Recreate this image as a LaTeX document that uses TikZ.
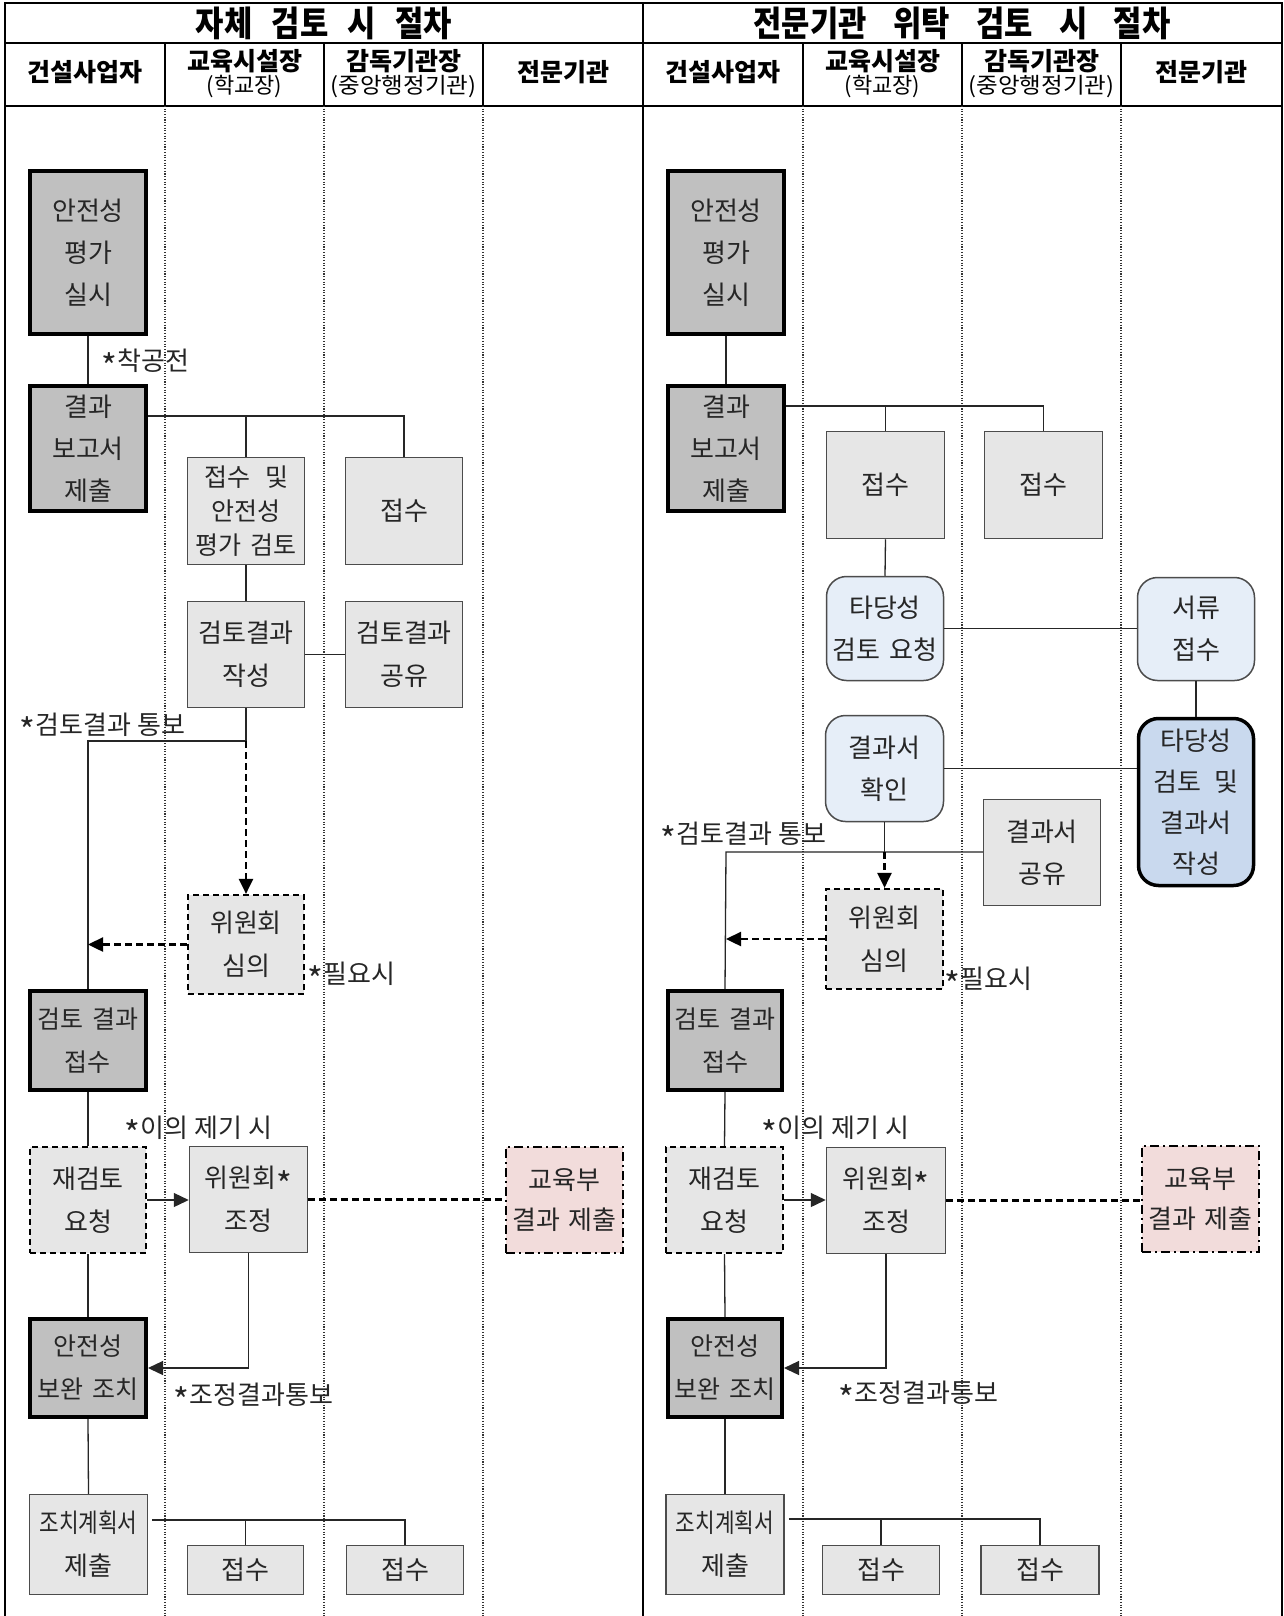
\documentclass[tikz,border=0pt]{standalone}
\usepackage{fontspec}
\setmainfont{Noto Sans CJK KR}[WordSpace=1.5]
\newfontfamily\lblf{Noto Sans CJK KR}[WordSpace=2.4]
\newfontfamily\titlef{Noto Sans CJK KR}
\usetikzlibrary{arrows.meta}
\definecolor{dkgray}{HTML}{C0C0C0}
\definecolor{ltgray}{HTML}{E6E6E6}
\definecolor{pinkc}{HTML}{F2DCDB}
\definecolor{paleblue}{HTML}{E6EEF8}
\definecolor{midblue}{HTML}{C9D9EE}
\newcommand{\astr}{\raisebox{-0.36em}{\scalebox{1.3}{*}}\hspace{1pt}}
\begin{document}
\begin{tikzpicture}[x=1pt,y=-1pt,
 base/.style={inner sep=1pt, align=center, font=\fontsize{26}{42}\selectfont, text=black!85},
 dk/.style={base, draw=black, line width=4pt, fill=dkgray},
 lt/.style={base, draw=black!70, line width=1.5pt, fill=ltgray},
 dsh/.style={base, draw=black, line width=2.2pt, dash pattern=on 6pt off 4pt, fill=ltgray},
 pinkbox/.style={base, draw=black, line width=2.2pt, dash pattern=on 9pt off 4pt on 2pt off 4pt, fill=pinkc},
 rb/.style={base, draw=black!70, line width=1.5pt, rounded corners=20pt, fill=paleblue},
 rbk/.style={base, draw=black, line width=3.5pt, rounded corners=20pt, fill=midblue},
 conn/.style={draw=black!85, line width=1.3pt},
 arr/.style={conn, -{Triangle[length=15pt,width=14pt]}},
 darr/.style={arr, draw=black, line width=2.4pt, dash pattern=on 7pt off 4pt},
 dline/.style={draw=black, line width=2.4pt, dash pattern=on 7pt off 4pt},
 lbl/.style={inner sep=0pt, anchor=west, font=\lblf\fontsize{26}{30}\selectfont, text=black!85},
 hd/.style={inner sep=0pt, font=\bfseries\fontsize{25}{28}\selectfont},
 hdsub/.style={inner sep=0pt, font=\fontsize{22}{24}\selectfont},
 ttl/.style={inner sep=0pt, font=\titlef\bfseries\fontsize{35}{38}\selectfont},
 frame/.style={draw=black, line width=1.5pt},
 dotl/.style={draw=black!80, line width=1.1pt, dash pattern=on 1.1pt off 1.6pt},
]
\fill[white] (0,0) rectangle (1283,1616);
\useasboundingbox (0,0) rectangle (1283,1616);

% table frame
\draw[frame] (5,1616) -- (5,3) -- (1282,3) -- (1282,1616);
\draw[frame] (643,3) -- (643,1616);
\draw[frame] (5,43) -- (1282,43);
\draw[frame] (5,106) -- (1282,106);
\foreach \xx in {165,324,483,803,962,1121}{
  \draw[frame, line width=1.2pt] (\xx,43) -- (\xx,106);
  \draw[dotl] (\xx,106) -- (\xx,1616);
}

% titles and headers
\node[ttl] (T1) at (324,23) {\scalebox{0.88}[1]{자체\hspace{22pt}검토\hspace{22pt}시\hspace{22pt}절차}};
\node[ttl] (T2) at (962,23) {\scalebox{0.88}[1]{전문기관\hspace{30pt}위탁\hspace{30pt}검토\hspace{30pt}시\hspace{30pt}절차}};
\node[hd] (H1) at (85,72) {건설사업자};
\node[hd] (H2) at (244.5,61) {교육시설장};
\node[hdsub] (H2s) at (244.5,87) {(학교장)};
\node[hd] (H3) at (403.5,61) {감독기관장};
\node[hdsub] (H3s) at (403.5,87) {\scalebox{1.07}[1]{(중앙행정기관)}};
\node[hd] (H4) at (563,72) {전문기관};
\node[hd] (H5) at (723,72) {건설사업자};
\node[hd] (H6) at (882.5,61) {교육시설장};
\node[hdsub] (H6s) at (882.5,87) {(학교장)};
\node[hd] (H7) at (1041.5,61) {감독기관장};
\node[hdsub] (H7s) at (1041.5,87) {\scalebox{1.07}[1]{(중앙행정기관)}};
\node[hd] (H8) at (1201.5,72) {전문기관};

% ===== left panel =====
\node[dk, minimum width=116pt, minimum height=163pt] (L1) at (88,252.5) {안전성\\평가\\실시};
\node[dk, minimum width=116pt, minimum height=125pt] (L2) at (88,448.5) {결과\\보고서\\제출};
\node[lt, minimum width=117pt, minimum height=107pt, font=\fontsize{25}{34}\selectfont] (LB1) at (246,511) {접수\hspace{0.6em}및\\안전성\\평가 검토};
\node[lt, minimum width=117pt, minimum height=107pt] (LC1) at (404,511) {접수};
\node[lt, minimum width=117pt, minimum height=106pt, font=\fontsize{26}{43}\selectfont] (LB2) at (246,654.5) {검토결과\\작성};
\node[lt, minimum width=117pt, minimum height=106pt, font=\fontsize{26}{43}\selectfont] (LC2) at (404,654.5) {검토결과\\공유};
\node[dsh, minimum width=116pt, minimum height=99pt, font=\fontsize{26}{43}\selectfont] (LB3) at (246,944.5) {위원회\\심의};
\node[dk, minimum width=116pt, minimum height=99pt, font=\fontsize{25}{43}\selectfont] (L3) at (88,1040.5) {검토 결과\\접수};
\node[dsh, minimum width=116pt, minimum height=106pt, font=\fontsize{26}{43}\selectfont] (L4) at (88,1200) {재검토\\요청};
\node[lt, minimum width=118pt, minimum height=106pt, font=\fontsize{26}{43}\selectfont] (LB4) at (248.5,1199.5) {위원회\astr\\조정};
\node[pinkbox, minimum width=117pt, minimum height=106pt, font=\fontsize{26}{40}\selectfont] (LD4) at (564.5,1200) {교육부\\결과 제출};
\node[dk, minimum width=116pt, minimum height=98pt, font=\fontsize{25}{43}\selectfont] (L5) at (88,1368) {안전성\\보완 조치};
\node[lt, minimum width=118pt, minimum height=100pt, font=\fontsize{26}{43}\selectfont] (L6) at (88.5,1544.5) {\scalebox{0.82}[1]{조치계획서}\\제출};
\node[lt, minimum width=116pt, minimum height=49pt] (LB6) at (245.5,1570) {접수};
\node[lt, minimum width=117pt, minimum height=49pt] (LC6) at (405,1570) {접수};

\coordinate (lj) at (404,416);
\coordinate (lt) at (246,741);
\coordinate (lc) at (88,741);
\coordinate (lk) at (405,1520);

\draw[conn] (L1.south) -- (L2.north);
\draw[conn] (L2.east |- lj) -- (lj) -- (LC1.north);
\draw[conn] (LB1.north |- lj) -- (LB1.north);
\draw[conn] (LB1.south) -- (LB2.north);
\draw[conn] (LB2.east) -- (LC2.west);
\draw[conn] (LB2.south) -- (lt) -- (lc) -- (L3.north);
\draw[darr] (lt) -- (LB3.north);
\draw[darr] (LB3.west) -- (lc |- LB3.west);
\draw[conn] (L3.south) -- (L4.north);
\draw[conn] (L4.south) -- (L5.north);
\draw[conn] (L5.south) -- (L6.north);
\draw[arr] (L4.east) -- (LB4.west |- L4.east);
\draw[dline] (LB4.east) -- (LD4.west |- LB4.east);
\draw[arr] (LB4.south) -- (LB4.south |- L5.east) -- (L5.east);
\draw[conn] ([xshift=4pt]L6.east |- lk) -- (lk) -- (LC6.north);
\draw[conn] (LB6.north |- lk) -- (LB6.north);

\node[lbl] (la1) at (101,364) {\astr 착공전};
\node[lbl] (la2) at (19,728) {\astr 검토결과 통보};
\node[lbl] (la3) at (307,977) {\astr 필요시};
\node[lbl] (la4) at (124,1131) {\astr 이의 제기 시};
\node[lbl] (la5) at (173,1398) {\astr 조정결과통보};

% ===== right panel =====
\node[dk, minimum width=116pt, minimum height=163pt] (R1) at (726,252.5) {안전성\\평가\\실시};
\node[dk, minimum width=116pt, minimum height=125pt] (R2) at (726,448.5) {결과\\보고서\\제출};
\node[lt, minimum width=118pt, minimum height=107pt] (RB1) at (885.5,485) {접수};
\node[lt, minimum width=118pt, minimum height=107pt] (RC1) at (1043.5,485) {접수};
\node[rb, minimum width=117pt, minimum height=104pt, font=\fontsize{26}{42}\selectfont] (RB2) at (885,628.5) {타당성\\검토 요청};
\node[rb, minimum width=117pt, minimum height=103pt, font=\fontsize{26}{42}\selectfont] (RD2) at (1196,629) {서류\\접수};
\node[rbk, minimum width=115pt, minimum height=167pt, font=\fontsize{26}{41}\selectfont] (RD3) at (1196,802) {타당성\\검토\hspace{0.5em}및\\결과서\\작성};
\node[rb, minimum width=118pt, minimum height=106pt, font=\fontsize{26}{42}\selectfont] (RB3) at (884.5,768.5) {결과서\\확인};
\node[lt, minimum width=117pt, minimum height=106pt, font=\fontsize{26}{42}\selectfont] (RC3) at (1042,852.5) {결과서\\공유};
\node[dsh, minimum width=117pt, minimum height=100pt, font=\fontsize{26}{43}\selectfont] (RB4) at (884.5,939) {위원회\\심의};
\node[dk, minimum width=114pt, minimum height=99pt, font=\fontsize{25}{43}\selectfont] (R3) at (725,1040.5) {검토 결과\\접수};
\node[dsh, minimum width=117pt, minimum height=106pt, font=\fontsize{26}{43}\selectfont] (R4) at (724.5,1200) {재검토\\요청};
\node[lt, minimum width=119pt, minimum height=106pt, font=\fontsize{26}{43}\selectfont] (RB5) at (886,1200.5) {위원회\astr\\조정};
\node[pinkbox, minimum width=117pt, minimum height=106pt, font=\fontsize{26}{40}\selectfont] (RD5) at (1200.5,1199) {교육부\\결과 제출};
\node[dk, minimum width=114pt, minimum height=98pt, font=\fontsize{25}{43}\selectfont] (R5) at (725,1368) {안전성\\보완 조치};
\node[lt, minimum width=118pt, minimum height=100pt, font=\fontsize{26}{43}\selectfont] (R6) at (725,1544.5) {\scalebox{0.82}[1]{조치계획서}\\제출};
\node[lt, minimum width=117pt, minimum height=49pt] (RB6) at (881,1570) {접수};
\node[lt, minimum width=118pt, minimum height=49pt] (RC6) at (1040,1570) {접수};

\coordinate (rj) at (1043.5,406);
\coordinate (rt) at (884.5,852);
\coordinate (rc) at (726,852);
\coordinate (rk) at (1040,1519);

\draw[conn] (R1.south) -- (R2.north);
\draw[conn] (R2.east |- rj) -- (rj) -- (RC1.north);
\draw[conn] (RB1.north |- rj) -- (RB1.north);
\draw[conn] (RB1.south) -- (RB2.north);
\draw[conn] (RB2.east) -- (RD2.west |- RB2.east);
\draw[conn] (RD2.south) -- (RD3.north);
\draw[conn] (RB3.east) -- (RD3.west |- RB3.east);
\draw[conn] (RB3.south) -- (rt);
\draw[conn] (RC3.west |- rc) -- (rc) -- (R3.north);
\draw[darr] (rt) -- (RB4.north);
\draw[darr] (RB4.west) -- (rc |- RB4.west);
\draw[conn] (R3.south) -- (R4.north);
\draw[conn] (R4.south) -- (R5.north);
\draw[conn] (R5.south) -- (R6.north);
\draw[arr] (R4.east) -- (RB5.west |- R4.east);
\draw[dline] (RB5.east) -- (RD5.west |- RB5.east);
\draw[arr] (RB5.south) -- (RB5.south |- R5.east) -- (R5.east);
\draw[conn] ([xshift=4pt]R6.east |- rk) -- (rk) -- (RC6.north);
\draw[conn] (RB6.north |- rk) -- (RB6.north);

\node[lbl] (ra2) at (660,837) {\astr 검토결과 통보};
\node[lbl] (ra3) at (944,982) {\astr 필요시};
\node[lbl] (ra4) at (761,1131) {\astr 이의 제기 시};
\node[lbl] (ra5) at (838,1396) {\astr 조정결과통보};
\end{tikzpicture}
\end{document}
